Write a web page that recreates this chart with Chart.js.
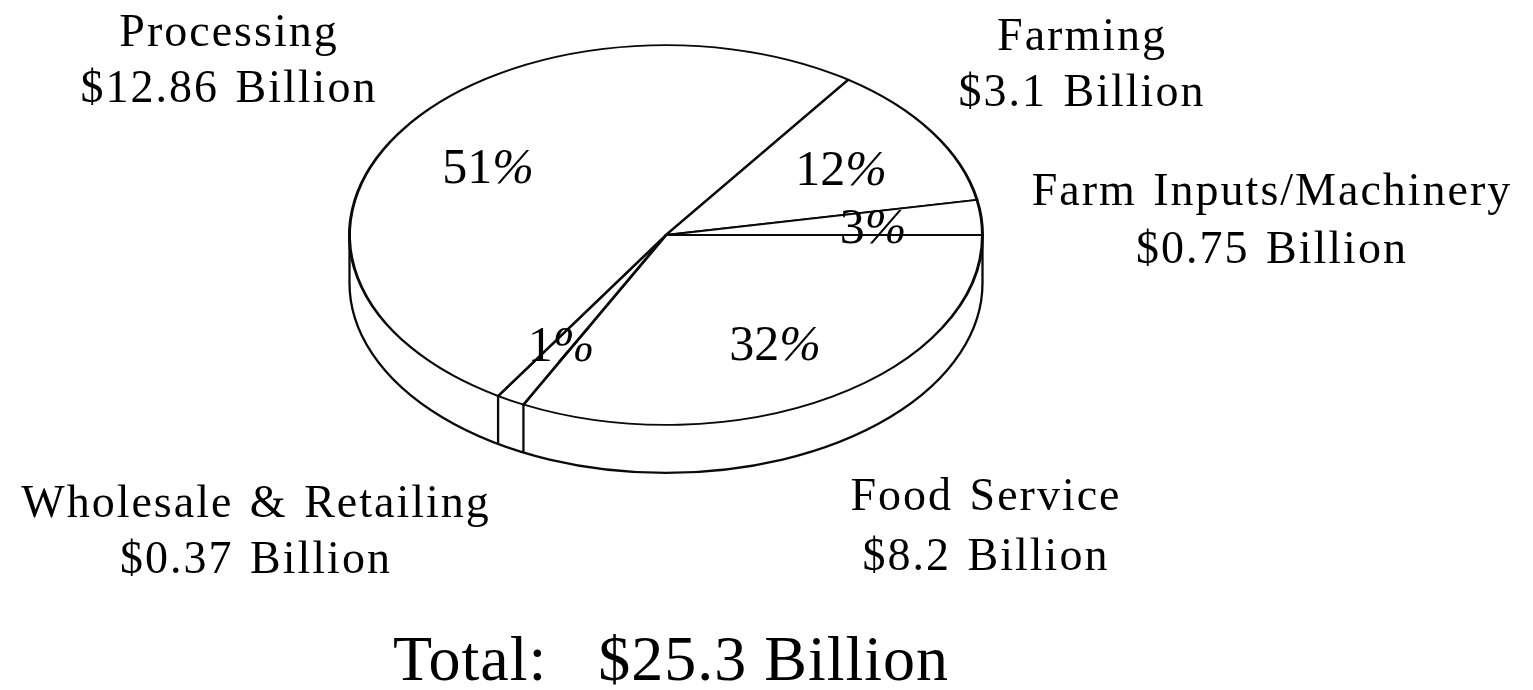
<!DOCTYPE html>
<html>
<head>
<meta charset="utf-8">
<script src="https://cdn.jsdelivr.net/npm/chart.js@4"></script>
<style>
  body { margin: 0; background: #fff; }
  canvas { display: block; }
</style>
</head>
<body>
<canvas id="pie" width="1533" height="690"></canvas>
<script>
// values in billions, clockwise from 3 o'clock
const categories = ['Food Service', 'Wholesale & Retailing', 'Processing', 'Farming', 'Farm Inputs/Machinery'];
const billions = [8.2, 0.37, 12.86, 3.1, 0.75];
const amountLabels = ['$8.2 Billion', '$0.37 Billion', '$12.86 Billion', '$3.1 Billion', '$0.75 Billion'];
const percentLabels = ['32', '1', '51', '12', '3'];
const totalLabel = 'Total:   $25.3 Billion';

// where the text goes: [centre x, first baseline, second baseline]
const namePlaces = [[986, 510, 570], [256, 517, 573], [229, 46, 102], [1082, 50, 106], [1272, 205, 263]];
// [centre x, baseline]
const percentPlaces = [[775, 360], [561, 361], [488, 183], [841, 185], [873, 243]];

const INK = '#0a0a0a';
const SERIF = '"Liberation Serif", "Times New Roman", serif';
const squash = 0.6;     // ellipse height / width
const topY = 235;       // centre of the pie's top face on screen
const depth = 48;       // thickness of the disc

const tiltPlugin = {
  id: 'tilt',
  beforeDatasetsDraw(chart) {
    const ctx = chart.ctx;
    const arcs = chart.getDatasetMeta(0).data;
    const cx = arcs[0].x, cy = arcs[0].y, r = arcs[0].outerRadius;

    // side wall of the disc
    ctx.save();
    ctx.strokeStyle = INK;
    ctx.lineWidth = 2.3;
    ctx.beginPath();
    ctx.ellipse(cx, topY + depth, r, r * squash, 0, 0, Math.PI);
    ctx.moveTo(cx + r, topY);
    ctx.lineTo(cx + r, topY + depth);
    ctx.moveTo(cx - r, topY);
    ctx.lineTo(cx - r, topY + depth);
    arcs.forEach(arc => {
      const a = arc.startAngle;
      if (Math.sin(a) > 0.01) {
        const x = cx + r * Math.cos(a);
        const y = topY + r * squash * Math.sin(a);
        ctx.moveTo(x, y);
        ctx.lineTo(x, y + depth);
      }
    });
    ctx.stroke();
    ctx.restore();

    // the pie itself is drawn flattened
    ctx.save();
    ctx.translate(cx, topY);
    ctx.scale(1, squash);
    ctx.translate(-cx, -cy);
  },
  afterDatasetsDraw(chart) {
    chart.ctx.restore();
  }
};

const textPlugin = {
  id: 'pieText',
  afterDraw(chart) {
    const ctx = chart.ctx;
    ctx.save();
    ctx.fillStyle = '#000';
    ctx.textBaseline = 'alphabetic';
    ctx.textAlign = 'center';

    ctx.font = '46px ' + SERIF;
    ctx.letterSpacing = '2px';
    ctx.wordSpacing = '3px';
    categories.forEach((name, i) => {
      const [x, y1, y2] = namePlaces[i];
      ctx.fillText(name, x, y1);
      ctx.fillText(amountLabels[i], x, y2);
    });

    // the percent sign is italic in the original
    ctx.letterSpacing = '0px';
    ctx.wordSpacing = '0px';
    ctx.textAlign = 'left';
    percentLabels.forEach((digits, i) => {
      const [x, y] = percentPlaces[i];
      ctx.font = '50px ' + SERIF;
      const w1 = ctx.measureText(digits).width;
      ctx.font = 'italic 50px ' + SERIF;
      const w2 = ctx.measureText('%').width;
      const left = x - (w1 + w2) / 2;
      ctx.fillText('%', left + w1, y);
      ctx.font = '50px ' + SERIF;
      ctx.fillText(digits, left, y);
    });

    ctx.textAlign = 'center';
    ctx.font = '64px ' + SERIF;
    ctx.letterSpacing = '1px';
    ctx.fillText(totalLabel, 671, 680);
    ctx.restore();
  }
};

new Chart(document.getElementById('pie'), {
  type: 'pie',
  data: {
    labels: categories,
    datasets: [{
      data: billions,
      backgroundColor: '#fff',
      borderColor: INK,
      borderWidth: 3,
      borderJoinStyle: 'round',
      clip: false
    }]
  },
  options: {
    responsive: false,
    animation: false,
    rotation: 90,
    layout: { padding: { left: 0, right: 201, top: 27, bottom: 27 } },
    plugins: { legend: { display: false }, tooltip: { enabled: false } }
  },
  plugins: [tiltPlugin, textPlugin]
});
</script>
</body>
</html>
